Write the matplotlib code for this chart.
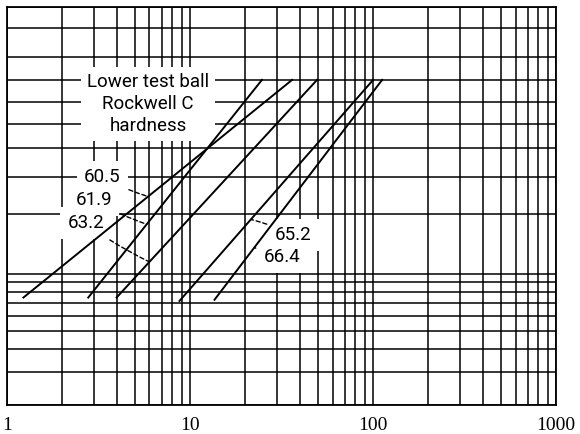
import matplotlib
matplotlib.use("Agg")
import matplotlib.pyplot as plt
import numpy as np
from matplotlib.ticker import FixedLocator, NullFormatter

# data (Weibull lines, 7.5 % to 70 % failed)
hardness = ['60.5', '61.9', '63.2', '65.2', '66.4']
life_start = [1.23, 2.78, 3.97, 8.76, 13.6]
life_end = [36.1, 24.7, 49.4, 100.0, 112.0]
pct_start = [7.5, 7.5, 7.5, 7.2, 7.3]
pct_end = [70.0, 70.0, 70.0, 70.0, 70.0]

# where each label's leader touches its line (x value)
leader_x = [5.9, 5.8, 6.0, 21.5, 22.4]

x_ticks = [1, 10, 100, 1000]
x_minor = [m * 10 ** d for d in range(3) for m in range(2, 10)]
y_grid = [2, 3, 4, 5, 6, 7, 8, 9, 10, 20, 30, 40, 50, 60, 70, 80, 90, 95]


def weib(p):
    p = np.clip(np.asarray(p, dtype=float), 1e-6, 99.9999)
    return np.log10(np.log(1.0 / (1.0 - p / 100.0)))


def weib_inv(y):
    y = np.asarray(y, dtype=float)
    return 100.0 * (1.0 - np.exp(-10.0 ** y))


def point_on_line(i, x):
    # straight line in log-x / weibull-y space
    x0, x1 = np.log10(life_start[i]), np.log10(life_end[i])
    y0, y1 = weib(pct_start[i]), weib(pct_end[i])
    t = (np.log10(x) - x0) / (x1 - x0)
    return float(weib_inv(y0 + t * (y1 - y0)))


sans = ['Liberation Sans Narrow', 'Roboto', 'DejaVu Sans']

fig = plt.figure(figsize=(5.8, 4.34), dpi=100)
ax = fig.add_axes([0.012, 0.067, 0.947, 0.916])

ax.set_xscale('log')
ax.set_yscale('function', functions=(weib, weib_inv))
ax.set_xlim(1, 1000)
ax.set_ylim(2, 95)

ax.xaxis.set_major_locator(FixedLocator(x_ticks))
ax.xaxis.set_minor_locator(FixedLocator(x_minor))
ax.xaxis.set_minor_formatter(NullFormatter())
ax.set_xticklabels([str(v) for v in x_ticks], family='Liberation Serif', fontsize=14)
ax.yaxis.set_major_locator(FixedLocator(y_grid))
ax.yaxis.set_minor_locator(FixedLocator([]))
ax.set_yticklabels([])
ax.tick_params(axis='both', which='both', length=0)
ax.tick_params(axis='x', pad=9)

ax.grid(True, which='both', color='black', linewidth=1.1)
ax.set_axisbelow(True)
for s in ax.spines.values():
    s.set_linewidth(1.3)

for i in range(len(hardness)):
    ax.plot([life_start[i], life_end[i]], [pct_start[i], pct_end[i]],
            color='black', linewidth=1.4, zorder=5)

ax.text(0.257, 0.757, 'Lower test ball\nRockwell C\nhardness',
        transform=ax.transAxes, ha='center', va='center', fontsize=13.5,
        family=sans, linespacing=1.3, zorder=4,
        bbox=dict(facecolor='white', edgecolor='none', pad=4))

# label positions in axes fraction
label_pos = [(0.207, 0.573), (0.192, 0.515), (0.177, 0.457),
             (0.488, 0.427), (0.468, 0.372)]
for i, lab in enumerate(hardness):
    xt, yt = label_pos[i]
    right = i < 3
    ls = (0, (3, 2)) if i < 4 else '-'
    ax.annotate(lab, xy=(leader_x[i], point_on_line(i, leader_x[i])),
                xycoords='data', xytext=(xt, yt), textcoords='axes fraction',
                ha='right' if right else 'left', va='center', fontsize=13.5,
                family=sans, zorder=4,
                bbox=dict(facecolor='white', edgecolor='none', pad=5),
                arrowprops=dict(arrowstyle='-', color='black', linewidth=1.0,
                                linestyle=ls, shrinkA=1, shrinkB=0,
                                connectionstyle='arc3,rad=0.05'))

fig.savefig('out.png', dpi=100)
